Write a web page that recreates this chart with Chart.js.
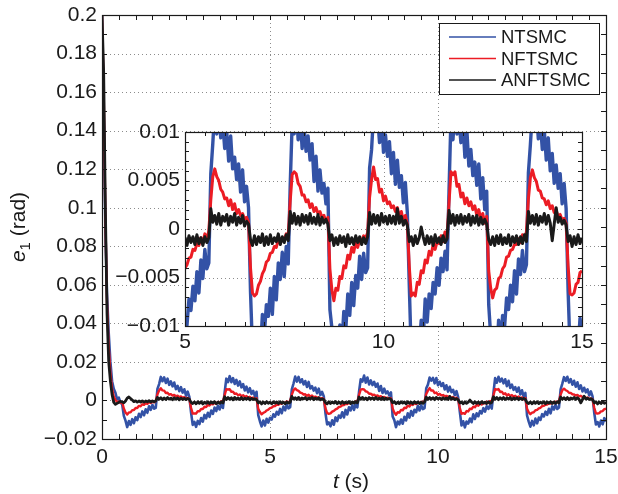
<!DOCTYPE html>
<html>
<head>
<meta charset="utf-8">
<script src="https://cdn.jsdelivr.net/npm/chart.js@4.4.1/dist/chart.umd.min.js"></script>
<style>
  html, body { margin: 0; padding: 0; background: #fff; }
  #wrap { position: relative; width: 618px; height: 494px; }
  #main { position: absolute; left: 0; top: 0; }
  #inset { position: absolute; left: 110px; top: 120px; }
</style>
</head>
<body>
<div id="wrap">
  <canvas id="main" width="618" height="494"></canvas>
  <canvas id="inset" width="490" height="240"></canvas>
</div>
<script>
// tracking error e1 (rad), sampled every 0.05 s from 0 to 15 s
const sampleStep = 0.05;
const labels = ['NTSMC', 'NFTSMC', 'ANFTSMC'];
const colors = ['#3352a6', '#ec1c24', '#1a1a1a'];

const ntsmc = [
  // 0 - 0.55 s
  0.2, 0.15, 0.09, 0.055, 0.035, 0.02, 0.01, 0.006, 0.004, 0.0005, 0.0015, -0.001,
  // 0.6 - 2.55 s
  -0.002, -0.008, -0.0105, -0.0138, -0.0107, -0.0127, -0.0097, -0.0118, -0.0087, -0.0102,
  -0.0069, -0.0086, -0.0057, -0.0077, -0.0046, -0.0064, -0.003, -0.0049, -0.0023, -0.0043,
  -0.0038, 0.006, 0.0085, 0.0122, 0.01, 0.012, 0.0091, 0.0113, 0.0081, 0.0099,
  0.0073, 0.0093, 0.0059, 0.0076, 0.0048, 0.0069, 0.0041, 0.0058, 0.0025, 0.0046,
  // 2.6 - 4.55 s
  0.0019, -0.0062, -0.0127, -0.0111, -0.0137, -0.0106, -0.0123, -0.0091, -0.011, -0.0075,
  -0.0093, -0.0064, -0.0085, -0.0052, -0.007, -0.0037, -0.0055, -0.0027, -0.0047, -0.002,
  -0.0039, 0.0042, 0.0113, 0.0095, 0.0126, 0.0095, 0.0116, 0.0086, 0.0107, 0.0077,
  0.0099, 0.0068, 0.0085, 0.0052, 0.0072, 0.0042, 0.0064, 0.0034, 0.005, 0.0023,
  // 4.6 - 6.55 s
  0.0045, -0.0076, -0.0108, -0.0135, -0.0104, -0.013, -0.0095, -0.0115, -0.009, -0.0099,
  -0.0072, -0.0084, -0.0059, -0.0074, -0.0044, -0.0066, -0.0032, -0.0051, -0.0021, -0.0041,
  -0.0035, 0.0057, 0.0088, 0.0124, 0.0098, 0.0122, 0.0094, 0.011, 0.0083, 0.0101,
  0.007, 0.0096, 0.0062, 0.0074, 0.0051, 0.0067, 0.0038, 0.0061, 0.0028, 0.0044,
  // 6.6 - 8.55 s
  0.0022, -0.0065, -0.0124, -0.0114, -0.0134, -0.0103, -0.0126, -0.0088, -0.0107, -0.0078,
  -0.009, -0.0061, -0.0088, -0.0049, -0.0073, -0.0035, -0.0052, -0.0024, -0.0049, -0.0018,
  -0.0036, 0.0045, 0.011, 0.0098, 0.0129, 0.0092, 0.0119, 0.0083, 0.0104, 0.008,
  0.0096, 0.0071, 0.0088, 0.0049, 0.0075, 0.0039, 0.0061, 0.0037, 0.0047, 0.0026,
  // 8.6 - 10.55 s
  0.0042, -0.0083, -0.0102, -0.0139, -0.0109, -0.0124, -0.0099, -0.0121, -0.0085, -0.0104,
  -0.0067, -0.0089, -0.0055, -0.0079, -0.0048, -0.0061, -0.0028, -0.0052, -0.0025, -0.0045,
  -0.004, 0.0063, 0.0082, 0.0119, 0.0103, 0.0117, 0.0089, 0.0116, 0.0079, 0.0097,
  0.0075, 0.009, 0.0057, 0.0079, 0.0046, 0.0071, 0.0043, 0.0055, 0.0027, 0.0048,
  // 10.6 - 12.55 s
  0.0017, -0.0059, -0.013, -0.0108, -0.014, -0.0109, -0.012, -0.0094, -0.0113, -0.0072,
  -0.0096, -0.0067, -0.0082, -0.0055, -0.0067, -0.004, -0.0058, -0.003, -0.0044, -0.0023,
  -0.0042, 0.0039, 0.0116, 0.0092, 0.0123, 0.0098, 0.0113, 0.0089, 0.011, 0.0074,
  0.0102, 0.0065, 0.0082, 0.0055, 0.0069, 0.0045, 0.0067, 0.0031, 0.0053, 0.002,
  // 12.6 - 14.55 s
  0.0039, -0.0078, -0.011, -0.0136, -0.0106, -0.0129, -0.0094, -0.0119, -0.0089, -0.0101,
  -0.0071, -0.0083, -0.0058, -0.0075, -0.0043, -0.0067, -0.0031, -0.0047, -0.0022, -0.0044,
  -0.0037, 0.0058, 0.0087, 0.0121, 0.0101, 0.0123, 0.0093, 0.0111, 0.0082, 0.0102,
  0.0071, 0.0094, 0.006, 0.0078, 0.0047, 0.0066, 0.0042, 0.0057, 0.0026, 0.0047,
  // 14.6 - 15 s
  0.0021, -0.0064, -0.0125, -0.0112, -0.0135, -0.0104, -0.0124, -0.0092, -0.0109
];

const nftsmc = [
  0.2, 0.16, 0.095, 0.05, 0.028, 0.014, 0.006, 0.002, 0.0003, -0.0008, -0.0006, -0.0012,
  -0.0008, -0.0042, -0.0062, -0.0073, -0.0062, -0.0062, -0.005, -0.005, -0.0039, -0.0039,
  -0.0028, -0.003, -0.002, -0.0023, -0.0014, -0.0018, -0.001, -0.0013, -0.0006, -0.001,
  -0.0003, 0.0032, 0.0052, 0.0063, 0.0052, 0.0051, 0.0039, 0.004, 0.003, 0.0033,
  0.0025, 0.0029, 0.0021, 0.0025, 0.0017, 0.0021, 0.0013, 0.0017, 0.0009, 0.0013,

  0.0006, -0.0038, -0.0068, -0.0067, -0.0068, -0.0056, -0.0056, -0.0044, -0.0044, -0.0033,
  -0.0034, -0.0024, -0.0026, -0.0017, -0.002, -0.0012, -0.0016, -0.0008, -0.0012, -0.0004,
  -0.0008, 0.0028, 0.0058, 0.0057, 0.0058, 0.0045, 0.0045, 0.0034, 0.0036, 0.0027,
  0.0031, 0.0023, 0.0027, 0.0019, 0.0023, 0.0015, 0.0019, 0.0011, 0.0015, 0.0007,

  0.0011, -0.0044, -0.006, -0.0072, -0.0064, -0.006, -0.0052, -0.0048, -0.004, -0.0037,
  -0.003, -0.0029, -0.0021, -0.0022, -0.0015, -0.0017, -0.0009, -0.0014, -0.0005, -0.0011,
  -0.0002, 0.003, 0.0054, 0.0062, 0.0054, 0.005, 0.0041, 0.0038, 0.0031, 0.0032,
  0.0024, 0.003, 0.002, 0.0026, 0.0016, 0.002, 0.0014, 0.0016, 0.001, 0.0012,

  0.0007, -0.004, -0.0066, -0.0069, -0.0067, -0.0058, -0.0054, -0.0046, -0.0042, -0.0034,
  -0.0032, -0.0025, -0.0024, -0.0018, -0.0019, -0.0011, -0.0015, -0.0009, -0.0011, -0.0005,
  -0.0007, 0.0029, 0.0056, 0.0059, 0.0057, 0.0047, 0.0044, 0.0035, 0.0035, 0.0028,
  0.003, 0.0022, 0.0026, 0.0018, 0.0022, 0.0016, 0.0018, 0.0012, 0.0014, 0.0008,

  0.0012, -0.0041, -0.0063, -0.0074, -0.0061, -0.0063, -0.0049, -0.0051, -0.0038, -0.004,
  -0.0027, -0.0031, -0.0019, -0.0024, -0.0013, -0.0019, -0.0011, -0.0012, -0.0007, -0.0009,
  -0.0004, 0.0033, 0.0051, 0.0064, 0.0051, 0.0052, 0.0038, 0.0041, 0.0029, 0.0034,
  0.0026, 0.0028, 0.0022, 0.0024, 0.0018, 0.0022, 0.0012, 0.0018, 0.0008, 0.0014,

  0.0005, -0.0039, -0.0069, -0.0066, -0.0069, -0.0055, -0.0057, -0.0043, -0.0045, -0.0032,
  -0.0035, -0.0023, -0.0027, -0.0016, -0.0021, -0.0013, -0.0015, -0.0007, -0.0013, -0.0003,
  -0.0009, 0.0027, 0.0059, 0.0056, 0.0059, 0.0044, 0.0046, 0.0033, 0.0037, 0.0026,
  0.0032, 0.0024, 0.0028, 0.002, 0.0024, 0.0014, 0.002, 0.001, 0.0016, 0.0006,

  0.0013, -0.0043, -0.0061, -0.0071, -0.0063, -0.0061, -0.0051, -0.0049, -0.0041, -0.0038,
  -0.0029, -0.0028, -0.0022, -0.0021, -0.0016, -0.0016, -0.001, -0.0014, -0.0006, -0.001,
  -0.0003, 0.0031, 0.0053, 0.0061, 0.0053, 0.0049, 0.004, 0.0039, 0.0032, 0.0031,
  0.0025, 0.0029, 0.0021, 0.0024, 0.0017, 0.0019, 0.0013, 0.0015, 0.0009, 0.0011,

  0.0006, -0.0038, -0.0067, -0.0068, -0.0066, -0.0057, -0.0055, -0.0045, -0.0043
];

const anftsmc = [
  0.2, 0.17, 0.1, 0.045, 0.02, 0.01, 0.003, -0.001, -0.002, -0.0015, -0.001, -0.0005,
  -0.0008, -0.0012, -0.0003, 0.0012, 0.0018, 0.001, 0.0002, -0.0006, -0.0002, -0.0009,
  -0.0003, -0.0008, -0.0002, -0.0009, -0.0003, -0.0007, -0.0001, -0.0008, -0.0002, -0.0007,
  -0.0003, 0.0016, 0.0006, 0.0014, 0.0004, 0.0013, 0.0005, 0.0015, 0.0007, 0.0012,
  0.0004, 0.0014, 0.0006, 0.0013, 0.0003, 0.0012, 0.0005, 0.0011, 0.0004, 0.001,

  0.0006, -0.001, -0.0016, -0.0008, -0.0017, -0.0007, -0.0015, -0.0006, -0.0018, -0.0009,
  -0.0015, -0.0007, -0.0016, -0.0008, -0.0014, -0.0006, -0.0017, -0.0009, -0.0015, -0.0007,
  -0.0013, 0.0019, 0.0005, 0.0015, 0.0006, 0.0014, 0.0003, 0.0016, 0.0006, 0.0013,
  0.0005, 0.0015, 0.0004, 0.0012, 0.0006, 0.0014, 0.0003, 0.0011, 0.0005, 0.0009,

  0.0004, -0.0013, -0.0007, -0.0018, -0.0008, -0.0016, -0.0006, -0.0015, -0.0009, -0.0017,
  -0.0007, -0.0014, -0.0008, -0.0016, -0.0006, -0.0015, -0.0009, -0.0017, -0.0008, -0.0014,
  -0.0009, 0.0021, 0.0007, 0.0014, 0.0005, 0.0016, 0.0004, 0.0013, 0.0008, 0.0015,
  0.0004, 0.0013, 0.0007, 0.0016, 0.0004, 0.0012, 0.0006, 0.0014, 0.0003, 0.0008,

  0.0005, -0.0011, -0.0017, -0.0007, -0.0016, -0.0008, -0.0014, -0.0005, -0.0017, -0.0008,
  -0.0016, -0.0006, -0.0015, -0.0009, -0.0013, -0.0005, -0.0016, -0.0008, -0.0014, -0.0006,
  -0.0012, 0.0018, 0.0006, 0.0016, 0.0005, 0.0013, 0.0004, 0.0015, 0.0007, 0.0014,
  0.0005, 0.0016, 0.0006, 0.0012, 0.0005, 0.0015, 0.0004, 0.0012, 0.0006, 0.001,

  0.0005, -0.0012, -0.0006, -0.0017, -0.0009, -0.0016, -0.0007, -0.0014, -0.0008, -0.0018,
  -0.0006, -0.0015, -0.0009, -0.0016, -0.0007, -0.0014, -0.0008, -0.0016, -0.0009, -0.0015,
  -0.0008, 0.0017, 0.0005, 0.0015, 0.0006, 0.0014, 0.0004, 0.0016, 0.0007, 0.0013,
  0.0005, 0.0014, 0.0006, 0.0013, 0.0005, 0.0021, 0.0006, 0.0013, 0.0004, 0.0009,

  0.0004, -0.0013, -0.0008, -0.0017, -0.0007, -0.0015, -0.0009, 0.0002, -0.0008, -0.0016,
  -0.0007, -0.0015, -0.0008, -0.0017, -0.0006, -0.0014, -0.0009, -0.0016, -0.0007, -0.0014,
  -0.001, 0.0019, 0.0006, 0.0015, 0.0004, 0.0014, 0.0006, 0.0015, 0.0005, 0.0013,
  0.0007, 0.0015, 0.0004, 0.0013, 0.0006, 0.0014, 0.0004, 0.0012, 0.0005, 0.001,

  0.0005, -0.0011, -0.0016, -0.0008, -0.0017, -0.0007, -0.0015, -0.0006, -0.0016, -0.0009,
  -0.0015, -0.0006, -0.0017, -0.0008, -0.0014, -0.0007, -0.0016, -0.0008, -0.0015, -0.0006,
  -0.0013, 0.0018, 0.0006, 0.0014, 0.0005, 0.0015, 0.0004, 0.0013, 0.0007, 0.0016,
  0.0005, 0.0014, 0.0006, -0.0012, 0.0005, 0.0022, 0.0007, 0.0012, 0.0005, 0.0009,

  0.0004, -0.0013, -0.0007, -0.0018, -0.0008, -0.0016, -0.0006, -0.0015, -0.0009
];

const series = [ntsmc, nftsmc, anftsmc];
const time = ntsmc.map((_, i) => Math.round(i * sampleStep * 100) / 100);

const FONT = '"Liberation Sans", Arial, sans-serif';
const fmt = v => {
  const s = String(+v.toFixed(4));
  return s === '-0' ? '0' : s.replace('-', '\u2212');
};

// MATLAB-like box: white plot area, dotted grid, inward ticks on all four sides
const frame = {
  id: 'frame',
  beforeDraw(chart, args, opts) {
    if (!opts.fill) return;
    const { ctx, chartArea: a } = chart;
    ctx.save();
    ctx.fillStyle = '#fff';
    ctx.fillRect(a.left, a.top, a.right - a.left, a.bottom - a.top);
    ctx.restore();
  },
  beforeDatasetsDraw(chart, args, opts) {
    const { ctx, chartArea: a, scales: { x, y } } = chart;
    ctx.save();
    ctx.strokeStyle = '#8c8c8c';
    ctx.lineWidth = 1;
    ctx.setLineDash([1, 3]);
    ctx.beginPath();
    x.ticks.forEach(t => {
      if (t.value <= x.min + 1e-9 || t.value >= x.max - 1e-9) return;
      const p = Math.round(x.getPixelForValue(t.value)) + 0.5;
      ctx.moveTo(p, a.top); ctx.lineTo(p, a.bottom);
    });
    y.ticks.forEach(t => {
      if (t.value <= y.min + 1e-9 || t.value >= y.max - 1e-9) return;
      const p = Math.round(y.getPixelForValue(t.value)) + 0.5;
      ctx.moveTo(a.left, p); ctx.lineTo(a.right, p);
    });
    ctx.stroke();
    ctx.restore();
  },
  afterDraw(chart, args, opts) {
    const { ctx, chartArea: a, scales: { x, y } } = chart;
    const L = opts.len;
    ctx.save();
    ctx.strokeStyle = '#1a1a1a';
    ctx.lineWidth = 1;
    ctx.beginPath();
    for (let v = x.min; v <= x.max + 1e-9; v += opts.xStep) {
      const p = Math.round(x.getPixelForValue(v)) + 0.5;
      ctx.moveTo(p, a.bottom); ctx.lineTo(p, a.bottom - L);
      ctx.moveTo(p, a.top); ctx.lineTo(p, a.top + L);
    }
    for (let v = y.min; v <= y.max + 1e-12; v += opts.yStep) {
      const p = Math.round(y.getPixelForValue(v)) + 0.5;
      ctx.moveTo(a.left, p); ctx.lineTo(a.left + L, p);
      ctx.moveTo(a.right, p); ctx.lineTo(a.right - L, p);
    }
    ctx.stroke();
    ctx.lineWidth = 1.2;
    ctx.strokeRect(Math.round(a.left) + 0.5, Math.round(a.top) + 0.5,
      Math.round(a.right - a.left), Math.round(a.bottom - a.top));
    ctx.restore();
  }
};

// axis titles with italic symbols and subscript
const axisTitles = {
  id: 'axisTitles',
  afterDraw(chart) {
    const { ctx, chartArea: a } = chart;
    const draw = (parts, x0, y0) => {
      let w = 0;
      parts.forEach(p => { ctx.font = p.font; w += ctx.measureText(p.text).width; });
      let x = x0 - w / 2;
      parts.forEach(p => {
        ctx.font = p.font;
        ctx.fillText(p.text, x, y0 + (p.dy || 0));
        x += ctx.measureText(p.text).width;
      });
    };
    ctx.save();
    ctx.fillStyle = '#1a1a1a';
    ctx.textBaseline = 'alphabetic';
    ctx.textAlign = 'left';
    draw([{ font: 'italic 21px ' + FONT, text: 't' }, { font: '21px ' + FONT, text: ' (s)' }],
      (a.left + a.right) / 2 - 3, 488);
    ctx.translate(25, (a.top + a.bottom) / 2);
    ctx.rotate(-Math.PI / 2);
    draw([{ font: 'italic 21px ' + FONT, text: 'e' },
          { font: '15px ' + FONT, text: '1', dy: 5 },
          { font: '21px ' + FONT, text: ' (rad)' }], 0, 0);
    ctx.restore();
  }
};

// legend box inside the plot, top right
const boxLegend = {
  id: 'boxLegend',
  afterDraw(chart) {
    const { ctx } = chart;
    ctx.save();
    ctx.fillStyle = '#fff';
    ctx.fillRect(439, 23, 160, 71);
    ctx.strokeStyle = '#1a1a1a';
    ctx.lineWidth = 1;
    ctx.strokeRect(439.5, 23.5, 160, 71);
    ctx.font = '18.5px ' + FONT;
    ctx.textBaseline = 'middle';
    chart.data.datasets.forEach((ds, i) => {
      const yy = 37 + i * 21.5;
      ctx.strokeStyle = ds.borderColor;
      ctx.lineWidth = 1.5;
      ctx.beginPath();
      ctx.moveTo(449, yy); ctx.lineTo(496, yy);
      ctx.stroke();
      ctx.fillStyle = '#1a1a1a';
      ctx.fillText(ds.label, 501, yy + 1);
    });
    ctx.restore();
  }
};

function makeDatasets(widths) {
  return series.map((vals, k) => ({
    label: labels[k],
    data: vals.map((v, i) => ({ x: time[i], y: v })),
    borderColor: colors[k],
    borderWidth: widths[k],
    borderJoinStyle: 'round',
    pointRadius: 0,
    tension: 0,
    order: 2 - k
  }));
}

function axes(xMin, xMax, xStep, yMin, yMax, yStep, yWidth, xHeight, tickPad) {
  return {
    x: {
      type: 'linear', min: xMin, max: xMax,
      ticks: { stepSize: xStep, autoSkip: false, maxRotation: 0, padding: tickPad.x,
        color: '#1a1a1a', font: { family: FONT, size: 21 }, callback: fmt },
      grid: { display: false, drawTicks: false },
      border: { display: false },
      afterFit: s => { s.height = xHeight; s.paddingLeft = 0; s.paddingRight = 0; }
    },
    y: {
      type: 'linear', min: yMin, max: yMax,
      ticks: { stepSize: yStep, autoSkip: false, padding: tickPad.y,
        color: '#1a1a1a', font: { family: FONT, size: 21 }, callback: fmt },
      grid: { display: false, drawTicks: false },
      border: { display: false },
      afterFit: s => { s.width = yWidth; s.paddingTop = 0; s.paddingBottom = 0; }
    }
  };
}

new Chart(document.getElementById('main'), {
  type: 'line',
  data: { datasets: makeDatasets([2.6, 2.4, 2.8]) },
  options: {
    responsive: false,
    animation: false,
    events: [],
    layout: { padding: { top: 15, right: 12, left: 0, bottom: 0 } },
    scales: axes(0, 15, 5, -0.02, 0.2, 0.02, 102, 55, { x: 6, y: 5 }),
    plugins: {
      legend: { display: false },
      tooltip: { enabled: false },
      frame: { len: 5, xStep: 0.5, yStep: 0.01, fill: false }
    }
  },
  plugins: [frame, axisTitles, boxLegend]
});

new Chart(document.getElementById('inset'), {
  type: 'line',
  data: { datasets: makeDatasets([3.4, 3, 3]) },
  options: {
    responsive: false,
    animation: false,
    events: [],
    layout: { padding: { top: 12, right: 18, left: 0, bottom: 0 } },
    scales: axes(5, 15, 5, -0.01, 0.01, 0.005, 75, 34, { x: 4, y: 5 }),
    plugins: {
      legend: { display: false },
      tooltip: { enabled: false },
      frame: { len: 4, xStep: 0.5, yStep: 0.001, fill: true }
    }
  },
  plugins: [frame]
});
</script>
</body>
</html>
